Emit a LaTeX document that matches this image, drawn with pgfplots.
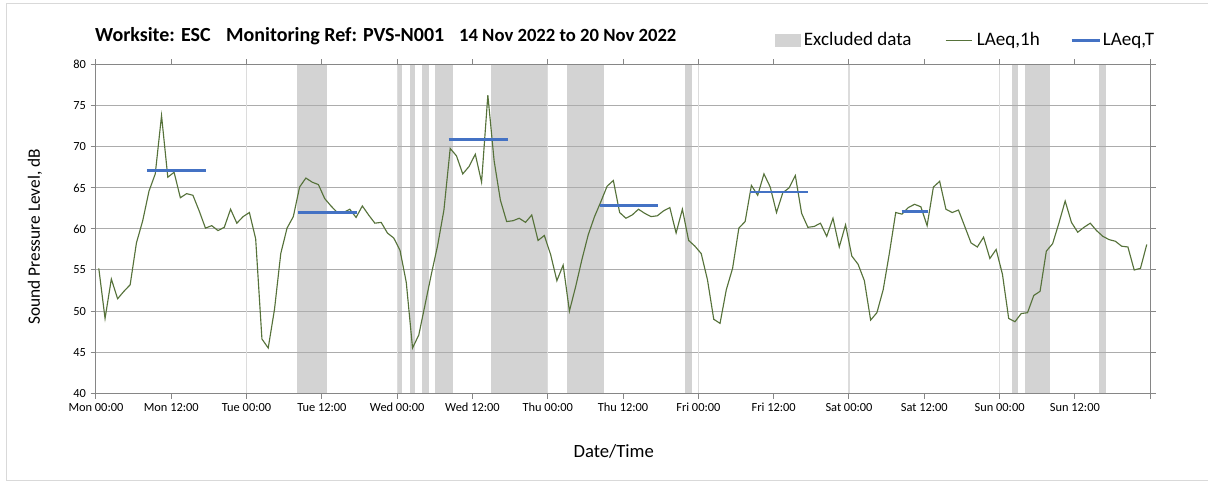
\documentclass[border=0pt]{standalone}
\usepackage{pgfplots}
\usepackage{pgfplotstable}
\pgfplotsset{compat=1.18}
\usepackage{fontspec}
\setmainfont{Carlito}
\definecolor{bandgray}{RGB}{211,211,211}
\definecolor{hgrid}{RGB}{172,172,172}
\definecolor{vgrid}{RGB}{220,220,220}
\definecolor{axisgray}{RGB}{134,134,134}
\definecolor{bordergray}{RGB}{217,217,217}
\definecolor{lgreen}{RGB}{86,114,58}
\definecolor{lblue}{RGB}{68,114,196}

\pgfplotstableread{
h L
0.45 55.2
1.45 49.1
2.45 53.9
3.45 51.5
4.45 52.4
5.45 53.2
6.45 58.3
7.45 61.0
8.45 64.6
9.45 66.7
10.45 73.8
11.45 66.3
12.45 66.9
13.45 63.8
14.45 64.3
15.45 64.1
16.45 62.2
17.45 60.1
18.45 60.4
19.45 59.8
20.45 60.2
21.45 62.4
22.45 60.7
23.45 61.5
24.45 62.0
25.45 58.8
26.45 46.6
27.45 45.5
28.45 50.2
29.45 57.0
30.45 60.1
31.45 61.5
32.45 65.1
33.45 66.2
34.45 65.7
35.45 65.4
36.45 63.7
37.45 62.8
38.45 62.0
39.45 62.0
40.45 62.4
41.45 61.4
42.45 62.8
43.45 61.7
44.45 60.7
45.45 60.8
46.45 59.5
47.45 58.9
48.45 57.4
49.45 53.5
50.45 45.5
51.45 47.1
52.45 50.8
53.45 54.5
54.45 58.0
55.45 62.3
56.45 69.8
57.45 68.9
58.45 66.7
59.45 67.6
60.45 69.1
61.45 65.7
62.45 76.3
63.45 68.3
64.45 63.5
65.45 60.9
66.45 61.0
67.45 61.3
68.45 60.8
69.45 61.7
70.45 58.6
71.45 59.2
72.45 56.9
73.45 53.7
74.45 55.6
75.45 50.0
76.45 53.0
77.45 56.3
78.45 59.3
79.45 61.5
80.45 63.3
81.45 65.2
82.45 65.9
83.45 62.0
84.45 61.3
85.45 61.7
86.45 62.4
87.45 61.9
88.45 61.5
89.45 61.6
90.45 62.2
91.45 62.6
92.45 59.5
93.45 62.4
94.45 58.6
95.45 57.9
96.45 57.0
97.45 53.8
98.45 49.0
99.45 48.5
100.45 52.6
101.45 55.2
102.45 60.1
103.45 60.9
104.45 65.3
105.45 64.1
106.45 66.7
107.45 65.1
108.45 62.0
109.45 64.4
110.45 65.0
111.45 66.5
112.45 61.9
113.45 60.2
114.45 60.3
115.45 60.7
116.45 59.1
117.45 61.3
118.45 57.8
119.45 60.5
120.45 56.7
121.45 55.7
122.45 53.7
123.45 48.9
124.45 49.8
125.45 52.6
126.45 57.1
127.45 62.0
128.45 61.8
129.45 62.6
130.45 63.0
131.45 62.7
132.45 60.4
133.45 65.1
134.45 65.8
135.45 62.4
136.45 62.0
137.45 62.3
138.45 60.3
139.45 58.3
140.45 57.8
141.45 59.0
142.45 56.4
143.45 57.5
144.45 54.5
145.45 49.1
146.45 48.7
147.45 49.7
148.45 49.8
149.45 51.9
150.45 52.4
151.45 57.3
152.45 58.2
153.45 60.7
154.45 63.4
155.45 60.8
156.45 59.6
157.45 60.2
158.45 60.7
159.45 59.8
160.45 59.1
161.45 58.7
162.45 58.5
163.45 57.9
164.45 57.8
165.45 55.0
166.45 55.2
167.45 58.1
}\lsdata

\begin{document}
\begin{tikzpicture}
\path (0,0) rectangle (906pt,364.5pt);
\draw[color=bordergray, line width=0.75pt] (906pt,361.5pt) -- (5.25pt,361.5pt) -- (5.25pt,3.75pt) -- (906pt,3.75pt);
\begin{axis}[
  at={(72pt,69.5pt)}, anchor=south west,
  width=791pt, height=246.45pt, scale only axis,
  xmin=0, xmax=168, ymin=40, ymax=80,
  xtick={0,12,...,168},
  xticklabels={Mon 00:00, Mon 12:00, Tue 00:00, Tue 12:00, Wed 00:00, Wed 12:00, Thu 00:00, Thu 12:00, Fri 00:00, Fri 12:00, Sat 00:00, Sat 12:00, Sun 00:00, Sun 12:00, {}},
  ytick={40,45,...,80},
  ymajorgrids,
  major grid style={color=hgrid, line width=0.75pt},
  extra x ticks={24,48,72,96,120,144},
  extra x tick labels={},
  extra x tick style={grid=major, major grid style={color=vgrid, line width=1pt}, major tick length=0pt},
  tick align=outside, major tick length=4pt,
  tick style={color=axisgray, line width=0.75pt},
  axis line style={color=axisgray, line width=0.75pt},
  ticklabel style={font=\fontsize{9.3}{10}\selectfont, color=black},
  /pgf/number format/assume math mode=true,
  set layers,
]
\addplot[fill=bandgray, draw=none, on layer=axis background] coordinates {(32,40) (32,80) (36.8,80) (36.8,40)};
\addplot[fill=bandgray, draw=none, on layer=axis background] coordinates {(47.9,40) (47.9,80) (48.8,80) (48.8,40)};
\addplot[fill=bandgray, draw=none, on layer=axis background] coordinates {(50,40) (50,80) (50.9,80) (50.9,40)};
\addplot[fill=bandgray, draw=none, on layer=axis background] coordinates {(51.9,40) (51.9,80) (53,80) (53,40)};
\addplot[fill=bandgray, draw=none, on layer=axis background] coordinates {(54,40) (54,80) (56.9,80) (56.9,40)};
\addplot[fill=bandgray, draw=none, on layer=axis background] coordinates {(62.9,40) (62.9,80) (71.9,80) (71.9,40)};
\addplot[fill=bandgray, draw=none, on layer=axis background] coordinates {(75,40) (75,80) (80.9,80) (80.9,40)};
\addplot[fill=bandgray, draw=none, on layer=axis background] coordinates {(93.9,40) (93.9,80) (95,80) (95,40)};
\addplot[fill=bandgray, draw=none, on layer=axis background] coordinates {(145.9,40) (145.9,80) (146.9,80) (146.9,40)};
\addplot[fill=bandgray, draw=none, on layer=axis background] coordinates {(148,40) (148,80) (152,80) (152,40)};
\addplot[fill=bandgray, draw=none, on layer=axis background] coordinates {(159.9,40) (159.9,80) (160.9,80) (160.9,40)};

\addplot[color=lgreen, line width=0.85pt, mark=none] table[x=h, y=L] {\lsdata};

\addplot[color=lblue, line width=2.2pt, mark=none] coordinates {(8.1,67.1) (17.5,67.1)};
\addplot[color=lblue, line width=2.2pt, mark=none] coordinates {(32.2,62.0) (41.6,62.0)};
\addplot[color=lblue, line width=2.2pt, mark=none] coordinates {(56.2,70.85) (65.7,70.85)};
\addplot[color=lblue, line width=2.2pt, mark=none] coordinates {(80.3,62.9) (89.5,62.9)};
\addplot[color=lblue, line width=2.2pt, mark=none] coordinates {(104.3,64.5) (113.5,64.5)};
\addplot[color=lblue, line width=2.2pt, mark=none] coordinates {(128.4,62.15) (132.6,62.15)};
\end{axis}

% title
\node[anchor=base west, inner sep=0pt, font=\fontsize{15}{18}\selectfont\bfseries] at (71.25pt,333pt) {Worksite: ESC};
\node[anchor=base west, inner sep=0pt, font=\fontsize{15}{18}\selectfont\bfseries] at (169.5pt,333pt) {Monitoring Ref: PVS-N001};
\node[anchor=base west, inner sep=0pt, font=\fontsize{14}{18}\selectfont\bfseries] at (344.25pt,333pt) {14 Nov 2022 to 20 Nov 2022};

% legend
\fill[bandgray] (581.25pt,329.25pt) rectangle (600.75pt,339pt);
\node[anchor=base west, inner sep=0pt, font=\fontsize{14.3}{16}\selectfont] at (603pt,330pt) {Excluded data};
\draw[lgreen, line width=0.85pt] (709.5pt,334.1pt) -- (729pt,334.1pt);
\node[anchor=base west, inner sep=0pt, font=\fontsize{14.3}{16}\selectfont] at (732.75pt,330pt) {LAeq,1h};
\draw[lblue, line width=2.2pt] (804pt,334.1pt) -- (825pt,334.1pt);
\node[anchor=base west, inner sep=0pt, font=\fontsize{14.3}{16}\selectfont] at (827.25pt,330pt) {LAeq,T};

% axis labels
\node[rotate=90, inner sep=0pt, font=\fontsize{13}{15}\selectfont] at (26.25pt,186.75pt) {Sound Pressure Level, dB};
\node[inner sep=0pt, font=\fontsize{14}{16}\selectfont] at (460.5pt,25.5pt) {Date/Time};
\end{tikzpicture}
\end{document}
